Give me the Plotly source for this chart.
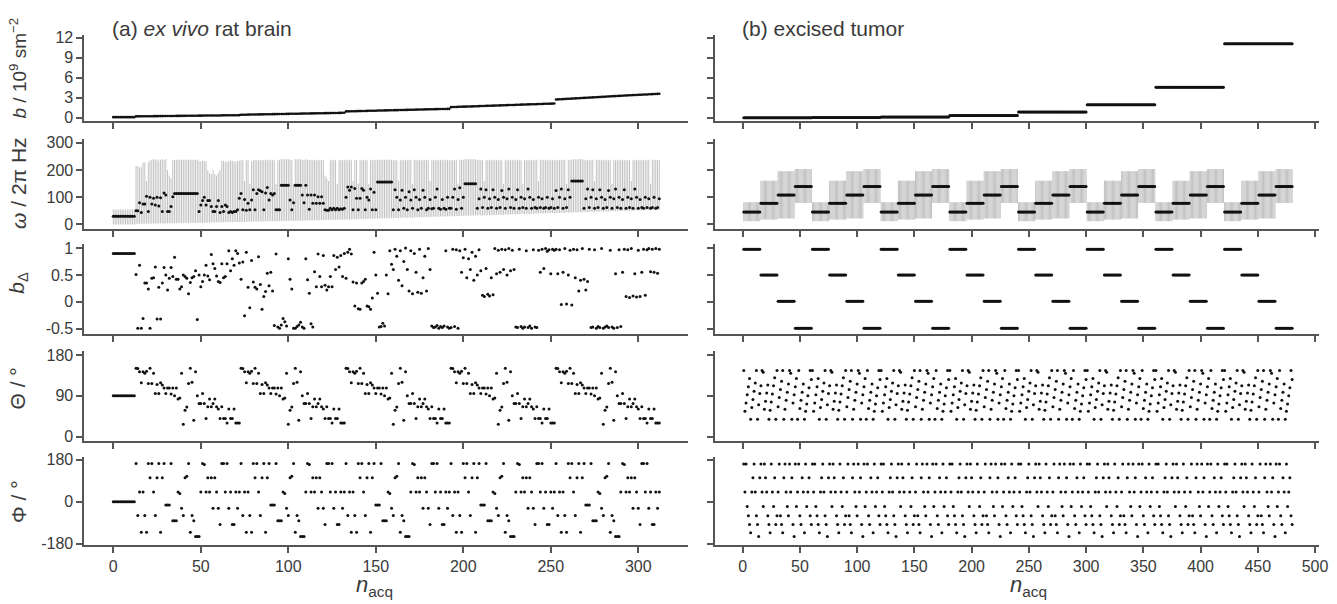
import plotly.graph_objects as go

# ================= DATA =================
# ---- (a) ex vivo rat brain : 13 b0 acquisitions + 5 shells x 60 ----
A_B0_N = 13
A_B0 = dict(b=0.1, w=30, wlo=0, whi=55, bd=0.9, th=90, ph=0)

A_B = [
 [0.22,0.22,0.22,0.23,0.23,0.23,0.24,0.24,0.24,0.24,0.25,0.25,0.25,0.26,0.26,0.26,0.27,0.27,0.27,0.28,
  0.28,0.28,0.28,0.29,0.29,0.29,0.30,0.30,0.30,0.31,0.31,0.31,0.32,0.32,0.32,0.32,0.33,0.33,0.33,0.34,
  0.34,0.34,0.35,0.35,0.35,0.35,0.36,0.36,0.36,0.37,0.37,0.37,0.38,0.38,0.38,0.38,0.39,0.39,0.39,0.40],
 [0.46,0.46,0.47,0.47,0.48,0.48,0.49,0.49,0.50,0.50,0.51,0.51,0.52,0.52,0.53,0.53,0.54,0.54,0.55,0.55,
  0.56,0.56,0.57,0.57,0.58,0.58,0.59,0.59,0.60,0.60,0.61,0.61,0.62,0.62,0.63,0.63,0.64,0.64,0.65,0.65,
  0.66,0.66,0.67,0.67,0.68,0.68,0.69,0.69,0.70,0.70,0.71,0.71,0.72,0.72,0.73,0.73,0.74,0.74,0.75,0.75],
 [0.96,0.97,0.97,0.98,0.99,0.99,1.00,1.01,1.01,1.02,1.03,1.03,1.04,1.05,1.05,1.06,1.07,1.07,1.08,1.09,
  1.09,1.10,1.11,1.11,1.12,1.13,1.13,1.14,1.15,1.15,1.16,1.17,1.17,1.18,1.19,1.19,1.20,1.21,1.21,1.22,
  1.23,1.23,1.24,1.25,1.25,1.26,1.27,1.27,1.28,1.29,1.29,1.30,1.31,1.31,1.32,1.32,1.33,1.33,1.34,1.34],
 [1.60,1.61,1.62,1.63,1.64,1.65,1.66,1.67,1.67,1.68,1.69,1.70,1.71,1.72,1.73,1.74,1.75,1.76,1.77,1.78,
  1.79,1.79,1.80,1.81,1.82,1.83,1.84,1.85,1.86,1.87,1.88,1.89,1.90,1.91,1.91,1.92,1.93,1.94,1.95,1.96,
  1.97,1.98,1.99,2.00,2.01,2.02,2.03,2.03,2.04,2.05,2.06,2.07,2.08,2.09,2.10,2.10,2.11,2.12,2.13,2.14],
 [2.74,2.76,2.77,2.79,2.80,2.82,2.83,2.85,2.86,2.88,2.89,2.91,2.92,2.94,2.95,2.97,2.98,3.00,3.01,3.03,
  3.04,3.06,3.07,3.09,3.10,3.12,3.13,3.15,3.16,3.18,3.19,3.21,3.22,3.24,3.25,3.27,3.28,3.30,3.31,3.33,
  3.34,3.36,3.37,3.38,3.40,3.41,3.42,3.44,3.45,3.46,3.48,3.49,3.50,3.52,3.53,3.54,3.56,3.57,3.58,3.60],
]

A_W = [
 [50,50,80,44,75,75,104,48,100,75,96,72,100,68,98,48,116,108,48,48,
  66,102,114,114,114,114,114,114,114,114,114,114,114,114,114,114,48,72,88,100,
  72,88,88,66,48,48,66,88,44,66,48,72,66,44,48,44,48,48,54,96],
 [114,54,92,52,78,54,90,128,54,114,128,124,120,54,116,136,90,114,108,114,
  54,54,54,144,144,144,144,144,90,54,80,144,144,144,144,108,80,144,108,56,
  108,78,108,78,102,78,102,78,54,52,52,60,54,60,54,60,54,58,56,60],
 [100,138,126,138,54,132,96,54,96,132,126,54,100,90,130,54,118,54,156,156,
  156,156,156,156,156,156,156,54,128,100,54,90,126,60,100,54,120,90,60,128,
  100,54,92,60,126,100,54,60,92,58,60,100,130,60,56,92,60,56,100,60],
 [60,100,130,56,92,135,60,100,150,150,150,150,150,150,150,60,95,130,62,100,
  128,60,95,62,128,100,60,92,62,125,100,60,95,130,62,100,60,92,128,60,
  100,62,95,60,130,100,60,92,62,60,100,62,95,60,62,100,60,62,95,60],
 [125,62,100,130,60,95,62,128,100,160,160,160,160,160,160,160,60,95,130,62,
  100,128,60,95,62,128,100,60,92,62,125,100,60,95,130,62,100,60,92,128,
  60,100,62,95,60,130,100,60,92,62,60,100,62,95,60,62,100,60,62,95],
]

A_WHI = [
 [215,215,210,210,228,228,160,228,235,238,240,238,240,235,238,240,238,240,200,180,
  170,236,238,238,238,238,238,238,238,238,238,238,238,238,238,238,234,232,234,234,
  232,200,190,185,200,185,180,190,200,234,234,230,232,234,236,234,232,230,234,234],
 [236,238,160,236,238,150,232,236,238,236,236,238,236,238,236,238,236,238,236,238,
  150,236,238,240,240,240,240,240,238,236,150,240,240,240,240,238,236,240,238,236,
  238,236,238,236,238,236,238,236,180,170,160,236,238,236,238,150,236,238,236,238],
 [236,238,236,238,160,238,236,150,236,238,236,238,236,150,238,236,238,236,238,238,
  238,238,238,238,238,238,238,236,238,236,160,236,238,236,238,236,238,236,150,238,
  236,238,236,238,236,238,236,238,160,236,238,236,238,236,238,236,238,236,238,236],
 [236,238,236,238,150,238,236,238,240,240,240,240,240,240,240,236,238,236,238,160,
  236,238,236,238,236,238,236,238,236,238,150,238,236,238,236,238,236,238,236,238,
  236,150,236,238,236,238,236,238,236,238,160,238,236,238,236,238,236,238,236,238],
 [236,238,236,238,236,238,150,238,236,238,240,240,240,240,240,240,236,238,236,238,
  236,238,160,238,236,238,236,238,236,238,236,238,150,238,236,238,236,238,236,238,
  236,238,236,160,236,238,236,238,236,238,236,238,236,238,150,238,236,238,236,238],
]

A_WLO = [
 [2,2,2,3,2,3,3,2,3,3,3,3,4,3,4,4,3,4,4,4,4,4,5,4,5,5,5,5,5,5,
  5,6,5,6,6,6,6,6,6,7,6,7,7,7,7,7,8,7,8,8,8,8,8,8,9,8,9,9,9,9],
 [9,10,9,10,10,10,10,10,11,10,11,11,11,11,11,12,11,12,12,12,12,12,13,12,13,13,13,13,13,14,
  13,14,14,14,14,14,15,14,15,15,15,15,15,16,15,16,16,16,16,16,17,16,17,17,17,17,17,18,17,18],
 [18,19,18,19,19,19,20,19,20,20,20,21,20,21,21,21,22,21,22,22,22,23,22,23,23,23,24,23,24,24,
  24,25,24,25,25,25,26,25,26,26,26,27,26,27,27,27,28,27,28,28,28,29,28,29,29,29,30,29,30,30],
 [30,31,30,31,31,31,32,31,32,32,32,33,32,33,33,33,34,33,34,34,34,35,34,35,35,35,36,35,36,36,
  36,37,36,37,37,37,38,37,38,38,38,39,38,39,39,39,40,39,40,40,40,41,40,41,41,41,42,41,42,42],
 [42,43,42,43,43,43,44,43,44,44,44,45,44,45,45,45,46,45,46,46,46,47,46,47,47,47,48,47,48,48,
  48,49,48,49,49,49,50,49,50,50,50,51,50,51,51,51,52,51,52,52,52,52,52,53,52,53,53,53,53,53],
]

A_BD = [
 [0.51,-0.49,0.68,-0.49,-0.31,0.35,0.35,0.24,-0.49,0.44,0.45,0.65,-0.32,0.27,-0.32,0.35,0.64,0.50,0.22,0.44,
  0.64,0.47,0.83,0.42,0.42,0.24,0.28,0.50,0.47,0.44,0.15,0.36,0.45,0.47,0.58,-0.33,0.50,0.28,0.38,0.50,
  0.68,0.48,0.41,0.88,0.71,0.62,0.48,0.38,0.36,0.71,0.45,0.47,0.71,0.95,0.58,0.80,0.68,0.95,0.90,0.72],
 [0.42,0.74,-0.26,0.92,0.27,-0.11,0.77,0.37,0.27,0.24,0.84,0.32,-0.14,0.10,0.19,0.53,0.30,0.55,0.20,-0.44,
  0.89,-0.47,-0.49,-0.43,-0.31,-0.37,-0.45,0.80,0.42,0.24,-0.49,-0.49,-0.46,-0.43,-0.38,-0.47,-0.49,0.80,0.41,0.16,
  -0.41,-0.47,0.56,0.28,0.89,0.47,0.28,0.86,0.31,0.22,0.28,0.47,0.28,0.86,0.60,0.83,0.65,0.86,0.47,0.90],
 [0.44,0.92,0.98,0.89,0.37,-0.08,0.35,-0.13,-0.14,0.35,0.38,0.42,-0.08,-0.09,-0.14,0.07,0.92,0.50,0.16,-0.47,
  -0.46,-0.40,-0.45,0.50,0.15,0.95,0.70,0.60,0.98,0.85,0.40,0.95,0.30,0.75,1.00,0.60,0.20,0.95,0.15,0.90,
  0.55,0.18,0.98,0.16,0.45,0.85,0.20,0.99,0.60,-0.45,-0.48,-0.47,-0.44,-0.49,-0.46,-0.48,-0.45,0.95,-0.47,-0.49],
 [-0.48,0.98,-0.46,0.97,-0.49,0.95,0.55,0.82,0.98,0.45,0.80,0.60,0.92,0.40,0.85,0.50,0.97,0.58,0.12,0.10,
  0.62,0.14,0.11,0.45,0.13,0.99,0.52,0.96,0.55,0.98,0.60,0.97,0.50,0.99,0.58,0.96,0.60,-0.47,-0.48,0.98,
  -0.46,-0.49,-0.47,0.95,-0.48,-0.45,-0.49,0.97,-0.47,-0.48,0.96,0.55,0.98,0.62,0.99,0.94,0.97,0.52,0.98,0.96],
 [0.98,0.52,0.97,-0.05,0.55,0.99,-0.04,0.50,0.96,-0.06,0.98,0.45,0.97,0.20,0.40,0.99,0.42,0.22,0.38,0.98,
  -0.48,-0.47,0.97,-0.49,-0.46,-0.48,0.99,-0.49,-0.47,-0.45,-0.48,0.96,-0.47,-0.49,0.52,-0.48,0.97,-0.46,0.55,0.98,
  0.10,0.97,0.08,0.99,0.11,0.52,0.09,0.96,0.10,0.55,0.98,0.12,0.97,0.99,0.56,0.98,0.55,0.99,0.53,0.98],
]

# directions used in every shell (same 60-direction order repeated)
A_TH_SHELL = [151,150,143,119,143,140,144,117,151,117,140,95,115,95,119,114,107,95,107,107,
              94,107,90,107,83,85,140,27,58,65,117,151,120,36,143,90,73,73,95,73,
              40,66,83,66,73,83,66,61,40,66,40,40,30,61,40,40,61,30,30,30]
A_PH_SHELL = [164,-59,42,-131,42,-59,-131,164,103,164,42,-59,103,164,-131,103,164,-14,-14,-14,
              164,-82,-82,-82,42,35,-28,-59,103,110,164,-131,-59,-82,-150,-150,-150,42,164,160,
              42,103,42,103,-28,103,42,-28,-98,164,164,42,164,-28,42,-98,-98,42,-28,42]

# ---- (b) excised tumor : 8 shells x 4 (bΔ, ω) groups x 15 directions ----
R_B_SHELL = [0.025, 0.06, 0.14, 0.34, 0.88, 1.95, 4.58, 11.07]
R_W_GROUP = [46, 78, 108, 140]
R_WLO_GROUP = [12, 18, 22, 79]
R_WHI_GROUP = [82, 161, 196, 204]
R_BD_GROUP = [0.98, 0.50, 0.01, -0.49]
# 60-direction order (4 groups x 15) repeated in every shell
R_TH_SHELL = [146, 56, 74, 92, 110, 128, 38, 64, 82, 100, 118, 146, 38, 70, 95,
              112, 146, 142, 60, 78, 96, 114, 38, 58, 76, 94, 112, 130, 38, 146,
              66, 86, 104, 122, 146, 38, 60, 80, 98, 116, 146, 140, 38, 74, 92,
              110, 128, 38, 146, 62, 80, 98, 116, 38, 56, 72, 90, 108, 146, 126]
R_PH_SHELL = [162, 42, 162, -21, -60, -98, -134, 42, 103, 162, 42, -60, -98, -150, 103,
              162, 42, -21, 162, 103, 42, -60, -98, -134, 162, 42, -21, 103, -98, -60,
              42, 162, -60, -98, -134, 103, 162, 42, -21, -60, 162, 42, 103, -98, -150,
              162, -21, 42, 162, -60, -98, 103, 42, -134, 162, -21, 42, 103, -60, -98]

# ================= BUILD SERIES =================
def flat(lists):
    out = []
    for l in lists:
        out += l
    return out

for nm, L in [("A_B", A_B), ("A_W", A_W), ("A_WHI", A_WHI), ("A_WLO", A_WLO), ("A_BD", A_BD)]:
    for s in L:
        assert len(s) == 60, (nm, len(s))
assert len(A_TH_SHELL) == 60 and len(A_PH_SHELL) == 60
assert len(R_TH_SHELL) == 60 and len(R_PH_SHELL) == 60

a_n = list(range(A_B0_N + 300))
a_b = [A_B0["b"]] * A_B0_N + flat(A_B)
a_w = [A_B0["w"]] * A_B0_N + flat(A_W)
a_whi = [A_B0["whi"]] * A_B0_N + flat(A_WHI)
a_wlo = [A_B0["wlo"]] * A_B0_N + flat(A_WLO)
a_bd = [A_B0["bd"]] * A_B0_N + flat(A_BD)
a_th = [A_B0["th"]] * A_B0_N + A_TH_SHELL * 5
a_ph = [A_B0["ph"]] * A_B0_N + A_PH_SHELL * 5

r_n, r_b, r_w, r_wlo, r_whi, r_bd, r_th, r_ph = [], [], [], [], [], [], [], []
k = 0
for sb in R_B_SHELL:
    for g in range(4):
        for d in range(15):
            r_n.append(k + 1)
            r_b.append(sb)
            r_w.append(R_W_GROUP[g]); r_wlo.append(R_WLO_GROUP[g]); r_whi.append(R_WHI_GROUP[g])
            r_bd.append(R_BD_GROUP[g])
            r_th.append(R_TH_SHELL[g * 15 + d]); r_ph.append(R_PH_SHELL[g * 15 + d])
            k += 1

# ================= LAYOUT =================
W, H = 1337, 604
COLS = [(85, 693), (720, 1328)]
XR = [[-16.5, 328.6], [-24, 503.5]]
XT = [[0, 50, 100, 150, 200, 250, 300], [0, 50, 100, 150, 200, 250, 300, 350, 400, 450, 500]]
ROWS = [(29.5, 117.5), (136, 228), (243, 335), (353, 445), (461, 551)]
YR = [[-0.47, 12.41], [-17, 314], [-0.595, 1.08], [-10.8, 188], [-187, 192]]
YT = [([0, 3, 6, 9, 12], ["0", "3", "6", "9", "12"]),
      ([0, 100, 200, 300], ["0", "100", "200", "300"]),
      ([-0.5, 0, 0.5, 1], ["-0.5", "0", "0.5", "1"]),
      ([0, 90, 180], ["0", "90", "180"]),
      ([-180, 0, 180], ["-180", "0", "180"])]

AX = "#555555"
TXT = "#3a3a3a"
FONT = "Liberation Sans, Arial, Helvetica, sans-serif"
DOT = "#111111"

fig = go.Figure()
layout = dict(width=W, height=H, margin=dict(l=0, r=0, t=0, b=0),
              paper_bgcolor="white", plot_bgcolor="white", showlegend=False,
              font=dict(family=FONT, color=TXT, size=15))

for r in range(5):
    for c in range(2):
        i = r * 2 + c + 1
        xs = "" if i == 1 else str(i)
        x0, x1 = COLS[c]
        t, b = ROWS[r]
        layout["xaxis" + xs] = dict(
            domain=[x0 / W, x1 / W], range=XR[c], anchor="y" + xs,
            showline=True, linecolor=AX, linewidth=2, ticks="outside", ticklen=6,
            tickwidth=2, tickcolor=AX, showgrid=False, zeroline=False,
            tickvals=XT[c], showticklabels=(r == 4), ticklabeloverflow="allow",
            tickfont=dict(size=16, color=TXT, family=FONT))
        layout["yaxis" + xs] = dict(
            domain=[1 - b / H, 1 - t / H], range=YR[r], anchor="x" + xs,
            showline=True, linecolor=AX, linewidth=2, ticks="outside", ticklen=6,
            tickwidth=2, tickcolor=AX, showgrid=False, zeroline=False,
            tickvals=YT[r][0], ticktext=YT[r][1], showticklabels=(c == 0),
            ticklabeloverflow="allow",
            tickfont=dict(size=16, color=TXT, family=FONT))

fig.update_layout(**layout)

def ax(r, c):
    i = r * 2 + c + 1
    s = "" if i == 1 else str(i)
    return "x" + s, "y" + s

def dots(x, y, r, c, size=3):
    xa, ya = ax(r, c)
    fig.add_trace(go.Scatter(x=x, y=y, mode="markers", xaxis=xa, yaxis=ya,
                             marker=dict(size=size, color=DOT, line=dict(width=0)),
                             cliponaxis=False, hoverinfo="skip"))

def wbars(x, w, lo, hi, r, c):
    xa, ya = ax(r, c)
    fig.add_trace(go.Scatter(
        x=x, y=w, mode="markers", xaxis=xa, yaxis=ya,
        marker=dict(size=3, color=DOT, line=dict(width=0)),
        error_y=dict(type="data", symmetric=False,
                     array=[h - m for h, m in zip(hi, w)],
                     arrayminus=[m - l for m, l in zip(w, lo)],
                     color="#c2c2c2", thickness=1, width=0),
        hoverinfo="skip"))

# panel (a)
dots(a_n, a_b, 0, 0, 2.6)
wbars(a_n, a_w, a_wlo, a_whi, 1, 0)
dots(a_n, a_bd, 2, 0)
dots(a_n, a_th, 3, 0)
dots(a_n, a_ph, 4, 0)
# panel (b)
dots(r_n, r_b, 0, 1, 3)
wbars(r_n, r_w, r_wlo, r_whi, 1, 1)
dots(r_n, r_bd, 2, 1)
dots(r_n, r_th, 3, 1)
dots(r_n, r_ph, 4, 1)

# ================= TEXT =================
def ann(text, xpx, ypx, size, angle=0, xanchor="center"):
    fig.add_annotation(text=text, x=xpx / W, y=1 - ypx / H, xref="paper", yref="paper",
                       showarrow=False, textangle=angle, xanchor=xanchor, yanchor="middle",
                       font=dict(size=size, color=TXT, family=FONT))

ann("(a) <i>ex vivo</i> rat brain", 111, 23, 21, xanchor="left")
ann("(b) excised tumor", 745, 23, 21, xanchor="left")

ann("<i>b</i> / 10<sup>9</sup> sm<sup>−2</sup>", 18, 63, 19, -90)
ann("<i>ω</i> / 2π Hz", 18, 181, 21, -90)
ann("<i>b</i><sub>Δ</sub>", 18, 283, 21, -90)
ann("Θ / °", 18, 391, 21, -90)
ann("Φ / °", 18, 506, 21, -90)

ann("<i>n</i><sub>acq</sub>", 377, 593, 22)
ann("<i>n</i><sub>acq</sub>", 1035, 593, 22)

fig.write_html("out.html")
